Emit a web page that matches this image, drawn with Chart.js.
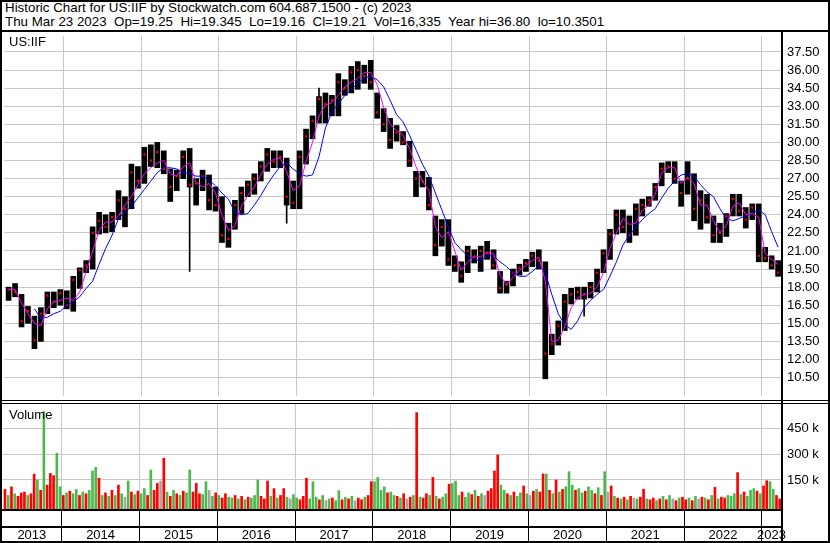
<!DOCTYPE html>
<html><head><meta charset="utf-8">
<script src="https://cdn.jsdelivr.net/npm/chart.js@4.4.0/dist/chart.umd.min.js"></script>
<style>
html,body{margin:0;padding:0;background:#fff;}
#wrap{position:relative;width:830px;height:543px;overflow:hidden;font-family:"Liberation Sans",Arial,sans-serif;font-size:13px;color:#000;}
.tx{position:absolute;white-space:pre;line-height:13px;}
.tt{font-size:13.35px;}
.ln{position:absolute;background:#000;}
canvas{position:absolute;left:0;}
#c1{top:32px;}
#c2{top:401px;}
#frame{position:absolute;left:0;top:0;width:830px;height:543px;box-sizing:border-box;border:2px solid #000;}
</style></head><body>
<div id="wrap">
<canvas id="c1" width="830" height="368"></canvas>
<canvas id="c2" width="830" height="142"></canvas>
<div class="tx tt" style="left:5px;top:1px;">Historic Chart for US:IIF by Stockwatch.com 604.687.1500 - (c) 2023</div>
<div class="tx tt" style="left:5px;top:15px;">Thu Mar 23 2023  Op=19.25  Hi=19.345  Lo=19.16  Cl=19.21  Vol=16,335  Year hi=36.80  lo=10.3501</div>
<div class="tx" style="left:9px;top:35px;">US:IIF</div>
<div class="tx" style="left:9px;top:408px;">Volume</div>
<div class="ln" style="left:0;top:30px;width:830px;height:2px;"></div>
<div class="ln" style="left:0;top:400px;width:830px;height:1px;"></div>
<div class="ln" style="left:0;top:403px;width:830px;height:1px;"></div>
<div class="ln" style="left:0;top:509px;width:783px;height:2px;"></div>
<div class="ln" style="left:0;top:526px;width:783px;height:2px;"></div>
<div class="ln" style="left:781px;top:32px;width:2px;height:509px;"></div>
<div id="frame"></div>
</div>
<script>
// ---------- DATA ----------
const months = [
"2013-04","2013-05","2013-06","2013-07","2013-08","2013-09","2013-10","2013-11","2013-12",
"2014-01","2014-02","2014-03","2014-04","2014-05","2014-06","2014-07","2014-08","2014-09","2014-10","2014-11","2014-12",
"2015-01","2015-02","2015-03","2015-04","2015-05","2015-06","2015-07","2015-08","2015-09","2015-10","2015-11","2015-12",
"2016-01","2016-02","2016-03","2016-04","2016-05","2016-06","2016-07","2016-08","2016-09","2016-10","2016-11","2016-12",
"2017-01","2017-02","2017-03","2017-04","2017-05","2017-06","2017-07","2017-08","2017-09","2017-10","2017-11","2017-12",
"2018-01","2018-02","2018-03","2018-04","2018-05","2018-06","2018-07","2018-08","2018-09","2018-10","2018-11","2018-12",
"2019-01","2019-02","2019-03","2019-04","2019-05","2019-06","2019-07","2019-08","2019-09","2019-10","2019-11","2019-12",
"2020-01","2020-02","2020-03","2020-04","2020-05","2020-06","2020-07","2020-08","2020-09","2020-10","2020-11","2020-12",
"2021-01","2021-02","2021-03","2021-04","2021-05","2021-06","2021-07","2021-08","2021-09","2021-10","2021-11","2021-12",
"2022-01","2022-02","2022-03","2022-04","2022-05","2022-06","2022-07","2022-08","2022-09","2022-10","2022-11","2022-12",
"2023-01","2023-02","2023-03"];

const high = [18.0,18.3,17.4,16.4,15.6,16.3,17.6,17.6,17.8,17.7, 18.9,19.6,20.2,23.0,24.2,24.0,24.2,26.0,25.5,28.2,
 28.0,29.6,29.8,30.0,29.3,27.8,27.7,29.3,29.5,27.0, 27.7,27.3,26.3,25.5,23.3,25.2,26.3,26.8,27.4,28.4,
 29.5,29.3,29.3,28.7,26.8,29.3,31.1,32.2,33.8,34.1, 33.9,35.7,35.2,36.3,36.7,36.4,36.8,34.1,32.8,32.0,
 31.4,30.9,30.1,27.6,27.6,27.1,23.9,23.6,23.6,20.6, 20.1,21.4,21.1,21.4,21.8,21.1,19.3,18.5,19.5,19.9,
 20.3,20.9,21.1,20.1,14.1,15.2,17.4,17.9,18.0,18.0, 18.4,19.5,21.1,22.8,24.4,24.4,23.9,24.9,25.3,25.5,
 26.6,28.3,28.4,28.4,26.8,28.4,27.4,26.0,25.7,23.9, 23.3,24.1,25.7,25.7,24.6,24.9,24.9,21.3,20.6,20.2];
const low = [16.9,17.2,14.7,15.0,12.9,13.5,15.8,16.3,16.5,16.2, 16.0,17.9,19.2,19.5,22.4,22.5,22.6,23.6,23.0,24.5,
 26.2,26.6,28.0,27.9,27.4,25.1,26.0,27.0,26.3,24.8, 26.0,24.4,24.3,21.7,21.3,22.8,24.1,25.5,25.7,26.8,
 27.6,27.9,27.9,24.8,24.5,24.5,28.2,30.3,31.6,31.6, 32.2,32.2,33.9,34.1,34.4,34.9,34.4,32.0,30.9,29.5,
 30.1,29.8,28.0,25.5,26.3,24.4,20.6,21.4,19.8,19.3, 18.4,19.2,20.0,19.3,20.3,19.5,17.5,17.5,18.1,19.0,
 19.3,19.7,19.5,10.4,12.4,13.2,14.4,16.6,17.0,17.0, 17.1,17.6,19.2,20.3,22.4,22.5,21.7,22.3,23.9,24.7,
 25.2,26.4,27.5,26.6,24.7,25.7,23.5,22.8,23.3,21.7, 21.7,22.2,23.9,23.9,22.9,23.6,20.1,20.1,19.5,18.9];
const close = [17.8,17.6,15.2,16.0,13.6,15.8,17.3,16.8,17.5,16.5, 18.6,19.4,19.8,22.5,23.5,23.0,23.8,25.2,24.5,27.5,
 26.8,29.0,28.5,29.2,27.8,26.3,27.2,28.8,26.5,26.6, 27.2,25.2,24.8,22.3,22.0,24.8,25.8,26.5,27.0,28.0,
 29.0,28.4,28.8,25.5,25.0,28.8,30.5,31.8,33.6,33.2, 33.5,35.0,34.5,35.8,36.0,35.5,35.0,32.5,31.5,30.2,
 30.8,30.0,28.5,27.0,26.8,24.8,21.5,23.0,20.3,19.8, 18.9,21.0,20.5,21.0,20.8,19.8,17.9,18.2,19.2,19.6,
 20.0,20.6,20.2,12.5,13.3,14.8,16.8,17.4,17.6,17.4, 18.0,19.2,20.8,22.4,24.0,23.0,22.3,24.5,24.8,25.2,
 26.3,27.8,28.0,27.0,25.8,27.0,24.5,25.2,23.8,22.3, 22.5,23.9,25.3,24.3,23.6,24.6,20.6,20.4,19.8,19.21];
// one-day extremes outside the monthly band
const spikeMonths = ["2015-08","2016-11","2017-04","2020-09"];
const spikeValues = [19.3, 23.3, 34.5, 15.6];
// moving averages (magenta = short, blue = long)
const maShort = [17.8,17.8,16.7,15.8,15.0,14.8,16.2,16.8,16.9,17.1, 16.9,17.6,19.3,21.0,22.7,23.4,23.4,23.9,24.8,25.5,
 26.5,27.4,27.9,28.3,28.5,27.4,27.2,28.0,28.3,26.7, 26.3,26.6,25.8,24.0,22.7,23.1,24.7,25.6,26.3,27.3,
 28.2,28.6,28.7,27.6,26.0,26.4,28.4,30.0,32.2,33.1, 33.3,33.9,34.6,35.0,35.3,35.8,35.8,34.8,32.9,31.5,
 31.0,30.6,29.5,28.0,26.8,26.0,23.0,22.1,22.6,21.0, 19.4,20.1,20.6,20.5,20.9,20.8,19.0,18.2,18.8,19.4,
 19.8,20.2,20.5,18.5,13.5,13.6,14.7,16.3,17.1,17.4, 17.5,18.0,19.2,21.2,22.5,23.7,23.2,23.3,24.4,24.8,
 25.7,27.5,27.9,27.9,26.6,27.1,26.6,24.8,24.8,23.5, 22.5,23.1,24.7,25.0,24.0,24.1,23.8,20.8,20.3,19.9];
const maLong = [null,null,null,null,16.2,15.4,15.5,15.8,16.0,16.5, 16.8,17.2,17.9,18.5,19.9,21.2,22.3,23.7,24.2,24.7,
 25.4,26.1,26.8,27.5,27.9,27.9,27.8,27.5,27.4,27.2, 27.2,26.9,26.4,25.8,25.3,24.2,24.0,24.1,24.8,25.6,
 26.5,27.3,28.0,28.3,27.8,27.4,27.2,27.3,28.8,31.2, 32.5,33.2,33.9,34.4,34.9,35.3,35.5,35.2,34.6,33.5,
 32.3,31.7,30.6,29.4,28.2,27.2,25.8,24.4,23.0,21.7, 21.1,20.6,20.3,20.2,20.6,20.6,20.1,19.7,19.2,18.9,
 18.9,19.3,19.8,19.2,17.4,15.8,14.9,14.5,15.2,16.3, 16.9,17.4,17.8,18.9,20.1,21.5,22.3,23.0,23.6,24.1,
 24.5,25.4,26.2,26.8,27.3,27.4,27.2,26.5,25.9,25.5, 24.5,23.7,23.5,23.7,23.9,24.1,24.4,24.0,22.6,21.3];
// half-monthly volume (thousands), two values per month; u=up d=down n=unchanged
const volume = [95,60,110,70,55,75,80,60,70,184, 150,90,547,120,188,175,305,110,60,75,
 85,70,95,60,80,70,90,202,223,160, 60,75,55,90,60,120,70,50,144,80,
 65,85,70,100,60,208,90,130,144,276, 80,55,90,70,60,85,75,208,80,130,
 70,65,140,90,55,75,60,45,70,50, 45,60,40,55,35,50,45,60,150,55,
 40,144,55,100,45,60,100,50,40,65, 45,35,55,160,40,140,50,35,60,30,
 40,45,30,88,35,50,40,55,30,45, 35,50,60,140,140,165,90,110,75,80,
 60,55,45,70,40,50,60,541,50,45, 70,60,165,55,40,50,70,125,130,144,
 60,80,50,75,65,90,55,70,60,85, 100,202,295,120,90,70,60,80,55,75,
 115,70,60,85,95,80,185,185,90,70, 150,80,95,111,198,120,90,100,75,85,
 110,90,70,105,60,198,80,115,55,45, 40,50,35,55,45,40,50,96,40,35,
 45,30,40,55,35,60,40,30,45,50, 35,45,30,55,40,50,45,35,60,107,
 40,50,45,60,55,70,193,65,80,55, 90,100,85,70,115,146,140,95,60,40];
const volDir = "dududddudd"+"ududdduudu"+"duududuuud"+"udududunud"+"uduududdnd"+"udududuudd"+
 "duunududdu"+"udududuuud"+"ddududdunu"+"uddduuudun"+"uduududund"+"dudduuuudu"+
 "ududndudud"+"dududuuduu"+"uduududund"+"ddduududuu"+"dunduddudu"+"duduuuduud"+
 "uududundud"+"ududnuddud"+"dududundud"+"dudundudud"+"udduuududu"+"uududduudd";
const years = ["2013","2014","2015","2016","2017","2018","2019","2020","2021","2022","2023"];
const priceTicks = [10.5,12,13.5,15,16.5,18,19.5,21,22.5,24,25.5,27,28.5,30,31.5,33,34.5,36,37.5];
const priceTickLabels = ["10.50","12.00","13.50","15.00","16.50","18.00","19.50","21.00","22.50","24.00","25.50","27.00","28.50","30.00","31.50","33.00","34.50","36.00","37.50"];
const volTicks = [150000,300000,450000];
const volTickLabels = ["150 k","300 k","450 k"];

// ---------- BUILD ----------
const X_MIN = 2013.2326, X_MAX = 2023.2455;
const P_MIN = 8.976, P_MAX = 38.82;
const V_MIN = -18600, V_MAX = 591300;
const FONT = '"Liberation Sans", Arial, sans-serif';
Chart.defaults.font.family = FONT;
Chart.defaults.font.size = 13;
Chart.defaults.color = '#000';

const noPad = s => { s.paddingTop = 0; s.paddingBottom = 0; s.paddingLeft = 0; s.paddingRight = 0; };

const monthX = m => { const p = m.split('-').map(Number); return p[0] + (p[1] - 0.5) / 12; };
const xs = months.map(monthX);
const bandPts = xs.map((x, i) => ({x, y: [low[i], high[i]]}));
const spikePts = spikeMonths.map((m, i) => {
  const k = months.indexOf(m), v = spikeValues[i];
  return {x: xs[k], y: v < low[k] ? [v, low[k]] : [high[k], v]};
});
const closePts = xs.map((x, i) => ({x, y: close[i]}));
const shortPts = xs.map((x, i) => ({x, y: maShort[i]}));
const longPts = xs.map((x, i) => ({x, y: maLong[i]}));
const yearBounds = years.slice(1).map(Number);

const GRID = '#c8c8c8';
const xGrid = () => ({
  type: 'linear', min: X_MIN, max: X_MAX, offset: false,
  grid: {color: GRID, drawTicks: false, offset: false},
  border: {display: false},
  ticks: {display: false},
  afterBuildTicks: s => { s.ticks = yearBounds.map(v => ({value: v})); },
  afterFit: s => { s.height = 0; noPad(s); }
});

new Chart(document.getElementById('c1'), {
  type: 'bar',
  data: {datasets: [
    {type: 'line', data: shortPts, borderColor: '#ff00ff', borderWidth: 1, pointRadius: 0, tension: 0, order: 0},
    {type: 'line', data: longPts, borderColor: '#0000ff', borderWidth: 1, pointRadius: 0, tension: 0, order: 1},
    {type: 'line', data: closePts, showLine: false, pointStyle: 'rect', pointRadius: 1.5, pointBorderWidth: 0,
     pointBackgroundColor: '#ff0000', order: 2},
    {type: 'bar', data: bandPts, backgroundColor: '#000', barThickness: 5, grouped: false, order: 3},
    {type: 'bar', data: spikePts, backgroundColor: '#000', barThickness: 1, grouped: false, order: 4}
  ]},
  options: {
    responsive: false, animation: false, events: [],
    layout: {padding: {left: 2, right: 2, top: 0, bottom: 0}},
    plugins: {legend: {display: false}, tooltip: {enabled: false}},
    scales: {
      x: xGrid(),
      y: {
        position: 'right', min: P_MIN, max: P_MAX,
        grid: {color: GRID, drawTicks: false},
        border: {display: false},
        ticks: {padding: 6, color: '#000', font: {size: 13}, callback: (v, i) => priceTickLabels[i]},
        afterBuildTicks: s => { s.ticks = priceTicks.map(v => ({value: v})); },
        afterFit: s => { s.width = 47; noPad(s); }
      }
    }
  }
});

const volPts = volume.map((v, j) => {
  const p = months[Math.floor(j / 2)].split('-').map(Number);
  return {x: p[0] + (p[1] - 1 + 0.25 + 0.5 * (j % 2)) / 12, y: v * 1000};
});
const volColors = volume.map((v, j) => volDir[j] === 'u' ? '#4db84d' : (volDir[j] === 'd' ? '#ff0000' : '#a6a6a6'));
const labelTicks = [(X_MIN + yearBounds[0]) / 2].concat(yearBounds.slice(0, -1).map(v => v + 0.5), [(yearBounds[yearBounds.length - 1] + X_MAX) / 2]);

const yearRows = {
  id: 'yearRows',
  afterDraw(chart) {
    const ctx = chart.ctx, sx = chart.scales.x, b = chart.chartArea.bottom;
    ctx.save();
    ctx.fillStyle = '#000';
    yearBounds.forEach(v => {
      const p = Math.round(sx.getPixelForValue(v) - 0.5);
      ctx.fillRect(p, b + 2, 1, 32);
    });
    ctx.restore();
  }
};

new Chart(document.getElementById('c2'), {
  type: 'bar',
  data: {datasets: [
    {data: volPts, backgroundColor: volColors, barThickness: 2, grouped: false, base: V_MIN}
  ]},
  options: {
    responsive: false, animation: false, events: [],
    layout: {padding: {left: 2, right: 2, top: 3, bottom: 0}},
    plugins: {legend: {display: false}, tooltip: {enabled: false}},
    scales: {
      x: xGrid(),
      xl: {
        type: 'linear', position: 'bottom', min: X_MIN, max: X_MAX, offset: false,
        grid: {display: false, drawTicks: false},
        border: {display: false},
        ticks: {padding: 19, color: '#000', font: {size: 13}, autoSkip: false, maxRotation: 0, minRotation: 0,
                callback: (v, i) => years[i]},
        afterBuildTicks: s => { s.ticks = labelTicks.map(v => ({value: v})); },
        afterFit: s => { s.height = 34; noPad(s); }
      },
      y: {
        position: 'right', min: V_MIN, max: V_MAX,
        grid: {color: GRID, drawTicks: false},
        border: {display: false},
        ticks: {padding: 6, color: '#000', font: {size: 13}, callback: (v, i) => volTickLabels[i]},
        afterBuildTicks: s => { s.ticks = volTicks.map(v => ({value: v})); },
        afterFit: s => { s.width = 47; noPad(s); }
      }
    }
  },
  plugins: [yearRows]
});
</script>
</body></html>
